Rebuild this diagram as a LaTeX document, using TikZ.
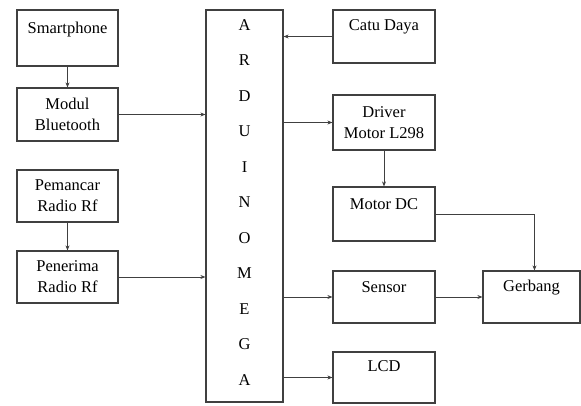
\documentclass[tikz,border=0pt]{standalone}
\usepackage{fontspec}
\setmainfont{Liberation Serif}
\usetikzlibrary{arrows.meta,positioning}

\begin{document}
\begin{tikzpicture}[x=1pt,y=-1pt,
  box/.style={draw=black!75,line width=1.2pt,rectangle,inner sep=0pt,align=center,
    font=\rmfamily\fontsize{16.5}{21}\selectfont},
  tag/.style={inner sep=0pt,font=\rmfamily\fontsize{16.5}{21}\selectfont},
  link/.style={draw=black!75,line width=1pt,-{Stealth[length=5pt,width=4pt]}}]
\useasboundingbox (0,0) rectangle (581,405);

\node[box,minimum width=101pt,minimum height=56pt] (sp) at (67.5,38) {};
\node[tag] at ([yshift=-20pt]sp.north) {Smartphone};
\node[box,minimum width=101pt,minimum height=53pt] (bt) at (67.5,114.5) {Modul\\Bluetooth};
\node[box,minimum width=101pt,minimum height=52pt] (tx) at (67.5,196) {Pemancar\\Radio Rf};
\node[box,minimum width=101pt,minimum height=52pt] (rx) at (67.5,277) {Penerima\\Radio Rf};

\node[box,minimum width=77pt,minimum height=392pt] (ard) at (244.5,206) {};
\foreach \ch [count=\i from 0] in {A,R,D,U,I,N,O,M,E,G,A}
  \node[tag] at (244.5,25+35.5*\i) {\ch};

\node[box,minimum width=102pt,minimum height=53pt] (cd) at (384,36.5) {};
\node[tag] at ([yshift=-17pt]cd.north) {Catu Daya};
\node[box,minimum width=102pt,minimum height=55pt] (drv) at (384,122.5) {Driver\\Motor L298};
\node[box,minimum width=102pt,minimum height=54pt] (mdc) at (384,214) {};
\node[tag] at ([yshift=-18pt]mdc.north) {Motor DC};
\node[box,minimum width=102pt,minimum height=52pt] (sen) at (384,297) {};
\node[tag] at ([yshift=-17pt]sen.north) {Sensor};
\node[box,minimum width=97pt,minimum height=52pt] (gb) at (531.5,297) {};
\node[tag] at ([yshift=-17pt]gb.north) {Gerbang};
\node[box,minimum width=102pt,minimum height=51pt] (lcd) at (384,377.5) {};
\node[tag] at ([yshift=-15pt]lcd.north) {LCD};

\draw[link] (sp) -- (bt);
\draw[link] (tx) -- (rx);
\draw[link] (bt.east) -- (bt.east -| ard.west);
\draw[link] (rx.east) -- (rx.east -| ard.west);
\draw[link] (cd.west) -- (cd.west -| ard.east);
\draw[link] (ard.east |- drv.west) -- (drv.west);
\draw[link] (ard.east |- sen.west) -- (sen.west);
\draw[link] (ard.east |- lcd.west) -- (lcd.west);
\draw[link] (drv) -- (mdc);
\draw[link] (sen) -- (gb);
\draw[link] (mdc.east) -| ([xshift=3pt]gb.north);

\end{tikzpicture}
\end{document}
